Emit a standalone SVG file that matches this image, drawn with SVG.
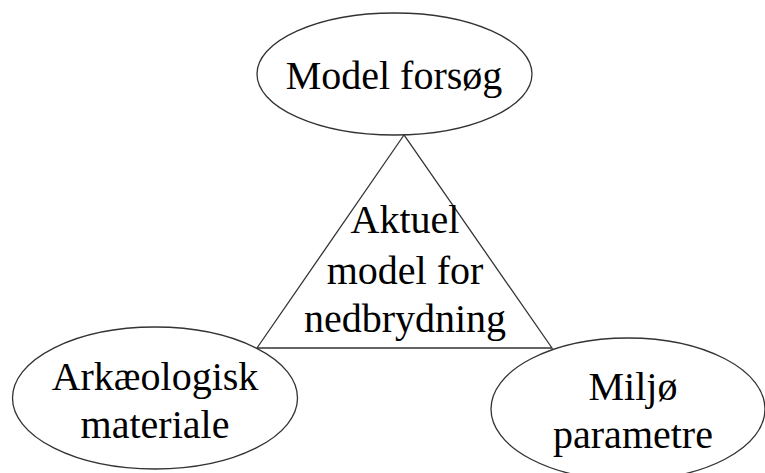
<svg xmlns="http://www.w3.org/2000/svg" width="765" height="473" viewBox="0 0 765 473">
<style>
.shape{fill:none;stroke:#333;stroke-width:1.3}
.lbl{font-family:"Liberation Serif","Times New Roman",serif;font-size:40px;fill:#000;text-anchor:middle}
</style>
<rect width="765" height="473" fill="#fff"/>
<g id="node-center">
<polygon class="shape" points="404,135 257,348 552,348"/>
<text class="lbl" x="405" y="233">Aktuel</text>
<text class="lbl" x="405" y="284">model for</text>
<text class="lbl" x="405" y="332">nedbrydning</text>
</g>
<g id="node-model">
<ellipse class="shape" cx="394.5" cy="74" rx="137.5" ry="61"/>
<text class="lbl" x="394" y="89">Model forsøg</text>
</g>
<g id="node-ark">
<ellipse class="shape" cx="155" cy="398" rx="142.5" ry="71"/>
<text class="lbl" x="155" y="390">Arkæologisk</text>
<text class="lbl" x="155" y="438">materiale</text>
</g>
<g id="node-miljo">
<ellipse class="shape" cx="628" cy="409" rx="137" ry="71"/>
<text class="lbl" x="633" y="400">Miljø</text>
<text class="lbl" x="633" y="448">parametre</text>
</g>
</svg>
